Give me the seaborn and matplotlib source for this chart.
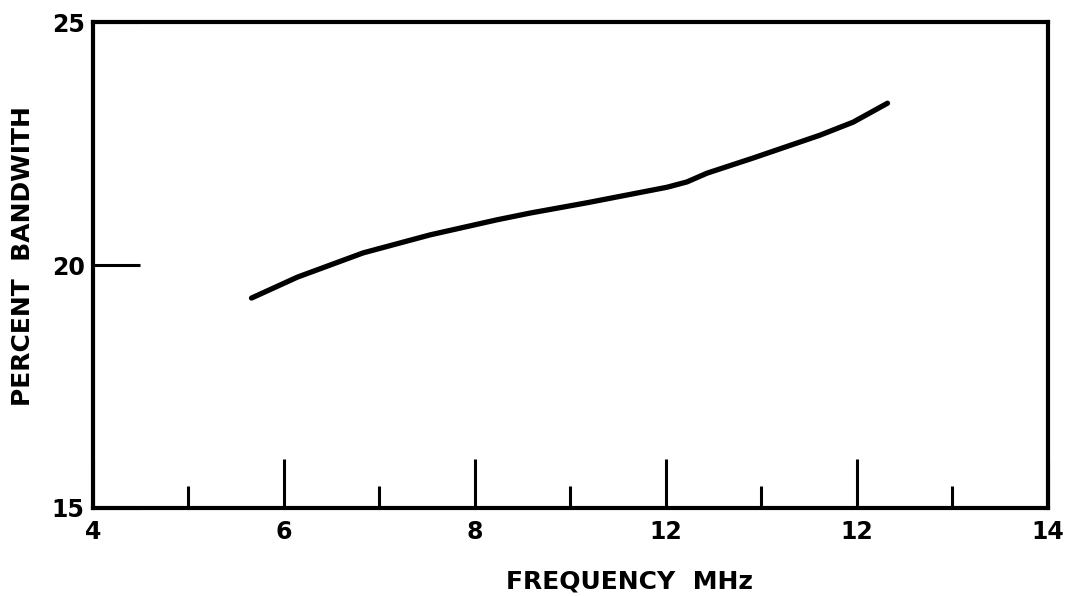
import matplotlib
matplotlib.use("Agg")
import matplotlib.pyplot as plt
import seaborn as sns
import pandas as pd
from matplotlib.ticker import FixedLocator

sns.set_theme(style="white")
plt.rcParams['font.family'] = ['DejaVu Sans']

# Data
freq = [5.66, 6.14, 6.83, 7.53, 8.23, 8.58, 9.17, 10.01, 10.22, 10.43,
        10.91, 11.61, 11.96, 12.32]
bandwidth = [19.32, 19.75, 20.25, 20.62, 20.93, 21.07, 21.28, 21.60, 21.71,
             21.89, 22.20, 22.67, 22.94, 23.33]
x_major = [4, 6, 8, 10, 12, 14]
x_major_labels = ["4", "6", "8", "12", "12", "14"]
x_minor = [5, 7, 9, 11, 13]
y_ticks = [15, 20, 25]
y_tick_labels = ["15", "20", "25"]

df = pd.DataFrame({"freq": freq, "bw": bandwidth})

fig = plt.figure(figsize=(10.65, 5.96), dpi=100)
ax = fig.add_axes([0.0873, 0.1477, 0.8967, 0.8153])
sns.lineplot(data=df, x="freq", y="bw", ax=ax, color="black", linewidth=3.8,
             solid_capstyle="round", solid_joinstyle="round")

ax.set_xlim(4, 14)
ax.set_ylim(15, 25)
ax.xaxis.set_major_locator(FixedLocator(x_major))
ax.set_xticklabels(x_major_labels)
ax.xaxis.set_minor_locator(FixedLocator(x_minor))
ax.yaxis.set_major_locator(FixedLocator(y_ticks))
ax.set_yticklabels(y_tick_labels)

for s in ax.spines.values():
    s.set_color("black")
    s.set_linewidth(3.0)

ax.tick_params(axis="x", which="major", direction="in", length=35, width=2.2,
               color="black", pad=9, labelsize=17, labelcolor="black", bottom=True)
ax.tick_params(axis="x", which="minor", direction="in", length=16, width=2.2,
               color="black", bottom=True)
ax.tick_params(axis="y", which="major", direction="in", length=34, width=2.2,
               color="black", pad=6, labelsize=17, labelcolor="black", left=True)
for lab in ax.get_xticklabels() + ax.get_yticklabels():
    lab.set_fontweight("bold")

ax.set_xlabel("")
ax.set_ylabel("")
fig.text(0.5915, 0.0235, "FREQUENCY  MHz", ha="center", va="center",
         fontsize=18, fontweight="bold", color="black")
fig.text(0.0216, 0.570, "PERCENT  BANDWITH", ha="center", va="center",
         rotation=90, fontsize=18, fontweight="bold", color="black")

fig.savefig("out.png", dpi=100, facecolor="white")
